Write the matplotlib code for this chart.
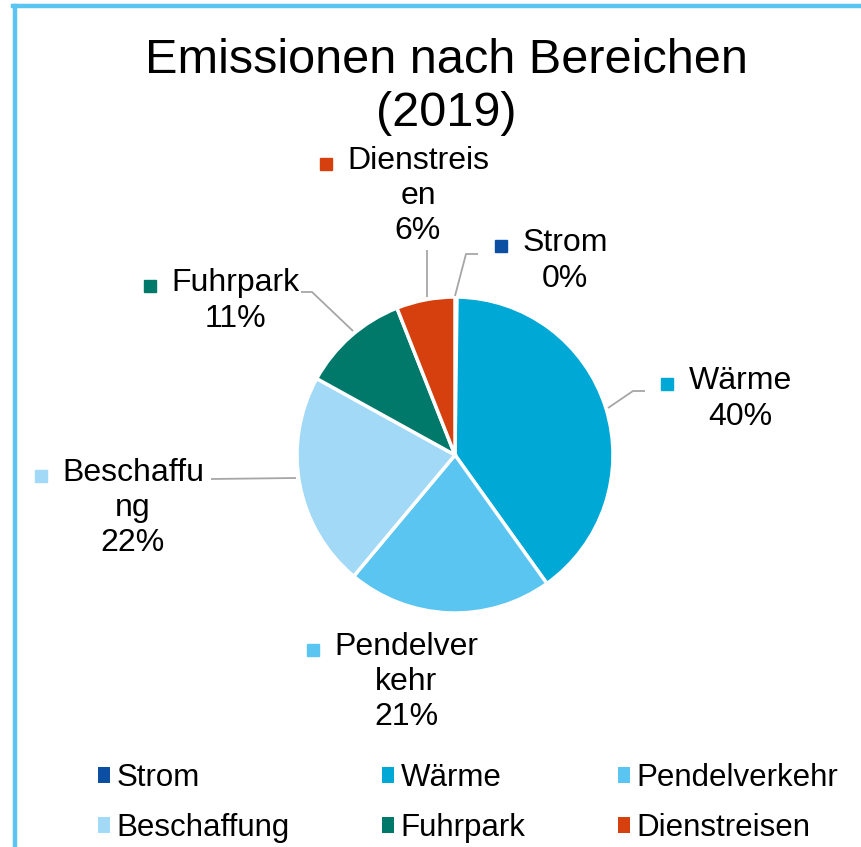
import matplotlib
matplotlib.use("Agg")
import matplotlib.pyplot as plt
from matplotlib.lines import Line2D
from matplotlib.patches import Patch

plt.rcParams['font.family'] = ['Liberation Sans', 'DejaVu Sans']

# data
categories = ["Strom", "Wärme", "Pendelverkehr", "Beschaffung", "Fuhrpark", "Dienstreisen"]
shares = [0.2, 40, 21, 22, 11, 6]
label_text = ["Strom", "Wärme", "Pendelver\nkehr", "Beschaffu\nng", "Fuhrpark", "Dienstreis\nen"]
colors = ["#0B4EA2", "#00A8D6", "#5BC5F2", "#A1D9F6", "#00786A", "#D6400E"]
title = "Emissionen nach Bereichen\n(2019)"

W, H = 862, 847
fig = plt.figure(figsize=(W / 100, H / 100), dpi=100)
ax = fig.add_axes([0, 0, 1, 1])

# pie, drawn in pixel-like coordinates (y from bottom)
cx, cy, r = 455, H - 455, 158
ax.pie(shares, colors=colors, startangle=90, counterclock=False,
       center=(cx, cy), radius=r,
       wedgeprops=dict(edgecolor="white", linewidth=2.5))
ax.set_xlim(0, W)
ax.set_ylim(0, H)
ax.set_aspect("auto")
ax.axis("off")

# label positions (image coords: x, y from top)
label_pos = [(565, 261), (740, 399), (406, 682), (133, 508), (235, 301), (418, 196)]
leaders = [
    [(455, 296), (466, 254), (478, 254)],
    [(608, 408), (633, 391), (645, 391)],
    None,
    [(211, 479), (296, 478)],
    [(301, 292), (312, 292), (353, 331)],
    [(427, 250), (427, 297)],
]

total = sum(shares)
fs = 23
texts = []
for name, v, (x, y) in zip(label_text, shares, label_pos):
    t = ax.text(x, H - y, f"{name}\n{round(v / total * 100)}%", ha="center", va="center",
                fontsize=fs, linespacing=1.22, color="#000000")
    texts.append(t)

for pts in leaders:
    if pts is None:
        continue
    ax.plot([p[0] for p in pts], [H - p[1] for p in pts], color="#A6A6A6", lw=1.3,
            solid_capstyle="butt")

# colour keys in front of the first label line
fig.canvas.draw()
renderer = fig.canvas.get_renderer()
for t, c in zip(texts, colors):
    bb = t.get_window_extent(renderer)
    ax.plot(bb.x0 - 21, bb.y1 - 18, marker="s", markersize=8.6, color=c, linestyle="none")

# title
fig.text(446 / W, 1 - 87 / H, title, ha="center", va="center", fontsize=35,
         linespacing=1.22, color="#000000")

# legend (column-first fill, so reorder for row layout)
order = [0, 3, 1, 4, 2, 5]
handles = [Patch(facecolor=colors[i], edgecolor="none") for i in order]
fig.legend(handles, [categories[i] for i in order], ncol=3, loc="center",
           bbox_to_anchor=(468 / W, 1 - 803 / H), frameon=False, fontsize=22.5,
           handlelength=0.38, handleheight=0.38, handletextpad=0.22,
           columnspacing=2.95, labelspacing=0.64)

# chart border (cut off at right and bottom)
fig.add_artist(Line2D([15 / W, 15 / W], [0, 1 - 6 / H], color="#5BC5F2", lw=3.2,
                      transform=fig.transFigure))
fig.add_artist(Line2D([13 / W, 1], [1 - 6 / H, 1 - 6 / H], color="#5BC5F2", lw=3.2,
                      transform=fig.transFigure))

plt.savefig("out.png", dpi=100)
